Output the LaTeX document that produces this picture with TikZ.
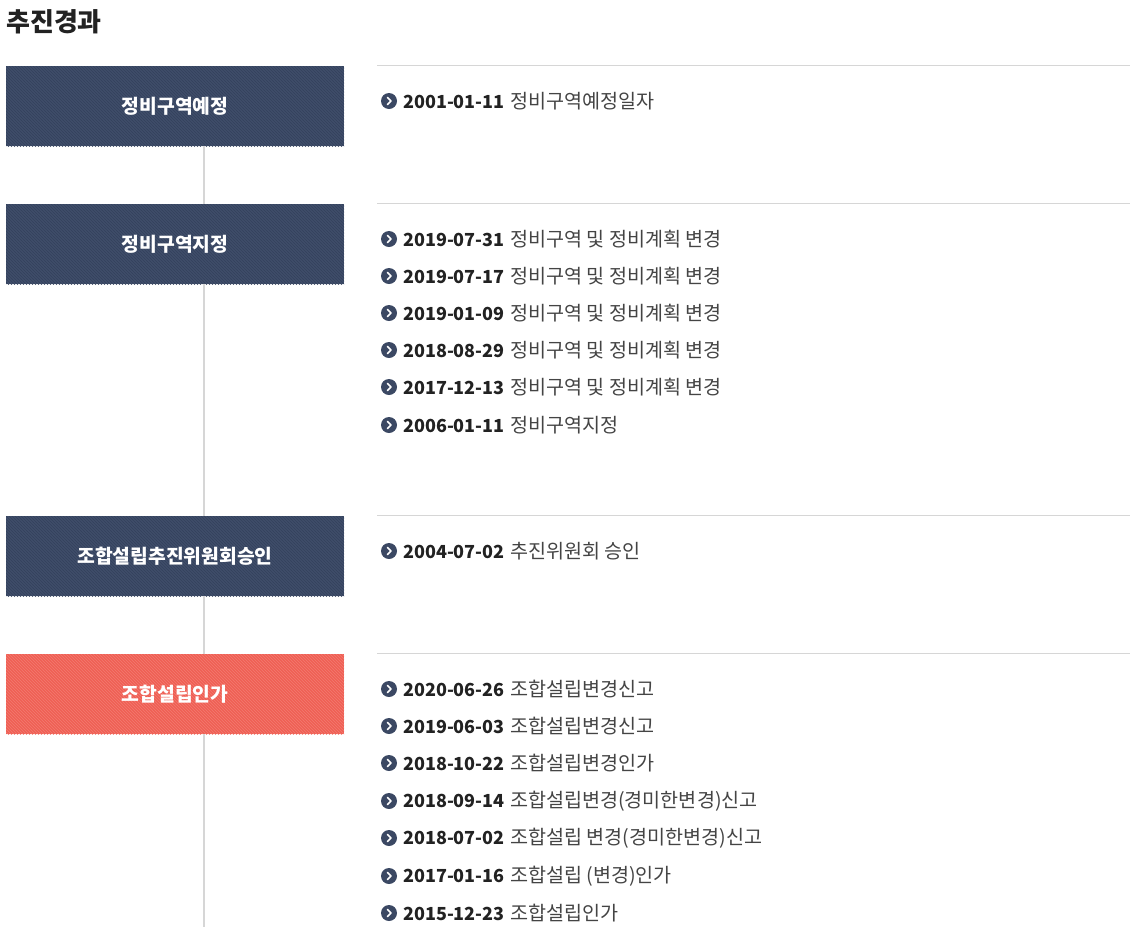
\documentclass[tikz,border=0pt]{standalone}
\usepackage{fontspec}
\setmainfont{Noto Sans CJK KR}
\usepackage{xcolor}
\usepackage{tikz}
\usetikzlibrary{patterns}

\definecolor{navy}{HTML}{3F4D6A}
\definecolor{navyline}{HTML}{34415C}
\definecolor{coral}{HTML}{EF5F54}
\definecolor{coralline}{HTML}{F37B71}
\definecolor{bulcol}{HTML}{3B4863}
\definecolor{datecol}{HTML}{222222}
\definecolor{desccol}{HTML}{444444}
\definecolor{rulecol}{HTML}{D6D6D6}

\tikzset{
  stage/.style={minimum width=338, minimum height=80, inner sep=0,
    text=white, font=\fontsize{19.3}{21}\selectfont\bfseries,
    postaction={pattern=north west lines, pattern color=#1}},
  entry/.style={anchor=west, inner sep=0, text=desccol,
    font=\fontsize{19.6}{21}\selectfont},
  bul/.style={circle, fill=bulcol, minimum size=16, inner sep=0},
  chev/.style={white, line width=1.7, line cap=round, line join=round},
  sep/.style={rulecol, line width=1},
  spine/.style={rulecol, line width=1.5}
}
\newcommand{\dt}[1]{{\color{datecol}\fontsize{18}{20}\selectfont\bfseries #1}\hspace{1pt}}

\begin{document}
\begin{tikzpicture}[x=1pt,y=-1pt]
\useasboundingbox (0,0) rectangle (1130,927);

\node[anchor=west, inner sep=0, text=datecol, font=\fontsize{26}{28}\selectfont\bfseries] (title) at (6,22) {추진경과};

\coordinate (v) at (204,0);
\coordinate (l) at (377,0);
\coordinate (r) at (1130,0);
\coordinate (bot) at (204,927);

% stages
\node[stage=navyline, fill=navy] (s1) at (175,106) {정비구역예정};
\node[stage=navyline, fill=navy] (s2) at (175,244) {정비구역지정};
\node[stage=navyline, fill=navy] (s3) at (175,556) {조합설립추진위원회승인};
\node[stage=coralline, fill=coral] (s4) at (175,694) {조합설립인가};

\draw[spine] (s1.south -| v) -- (s2.north -| v);
\draw[spine] (s2.south -| v) -- (s3.north -| v);
\draw[spine] (s3.south -| v) -- (s4.north -| v);
\draw[spine] (s4.south -| v) -- (bot);

\draw[sep] (s1.north -| l) -- (s1.north -| r);
\draw[sep] (s2.north -| l) -- (s2.north -| r);
\draw[sep] (s3.north -| l) -- (s3.north -| r);
\draw[sep] (s4.north -| l) -- (s4.north -| r);

% entries
\node[entry] (a1) at (403,101) {\dt{2001-01-11} 정비구역예정일자};

\node[entry] (b1) at (403,239) {\dt{2019-07-31} 정비구역 및 정비계획 변경};
\node[entry] (b2) at (403,276) {\dt{2019-07-17} 정비구역 및 정비계획 변경};
\node[entry] (b3) at (403,313) {\dt{2019-01-09} 정비구역 및 정비계획 변경};
\node[entry] (b4) at (403,350) {\dt{2018-08-29} 정비구역 및 정비계획 변경};
\node[entry] (b5) at (403,387) {\dt{2017-12-13} 정비구역 및 정비계획 변경};
\node[entry] (b6) at (403,425) {\dt{2006-01-11} 정비구역지정};

\node[entry] (c1) at (403,551) {\dt{2004-07-02} 추진위원회 승인};

\node[entry] (d1) at (403,689) {\dt{2020-06-26} 조합설립변경신고};
\node[entry] (d2) at (403,726) {\dt{2019-06-03} 조합설립변경신고};
\node[entry] (d3) at (403,763) {\dt{2018-10-22} 조합설립변경인가};
\node[entry] (d4) at (403,801) {\dt{2018-09-14} 조합설립변경(경미한변경)신고};
\node[entry] (d5) at (403,838) {\dt{2018-07-02} 조합설립 변경(경미한변경)신고};
\node[entry] (d6) at (403,876) {\dt{2017-01-16} 조합설립 (변경)인가};
\node[entry] (d7) at (403,913) {\dt{2015-12-23} 조합설립인가};

% bullets
\foreach \n in {a1,b1,b2,b3,b4,b5,b6,c1,d1,d2,d3,d4,d5,d6,d7} {
  \node[bul] (\n-b) at ([xshift=-14]\n.west) {};
  \draw[chev] ([xshift=-1.5,yshift=3.5]\n-b.center) -- ([xshift=2,yshift=0]\n-b.center)
    -- ([xshift=-1.5,yshift=-3.5]\n-b.center);
}

\end{tikzpicture}
\end{document}
